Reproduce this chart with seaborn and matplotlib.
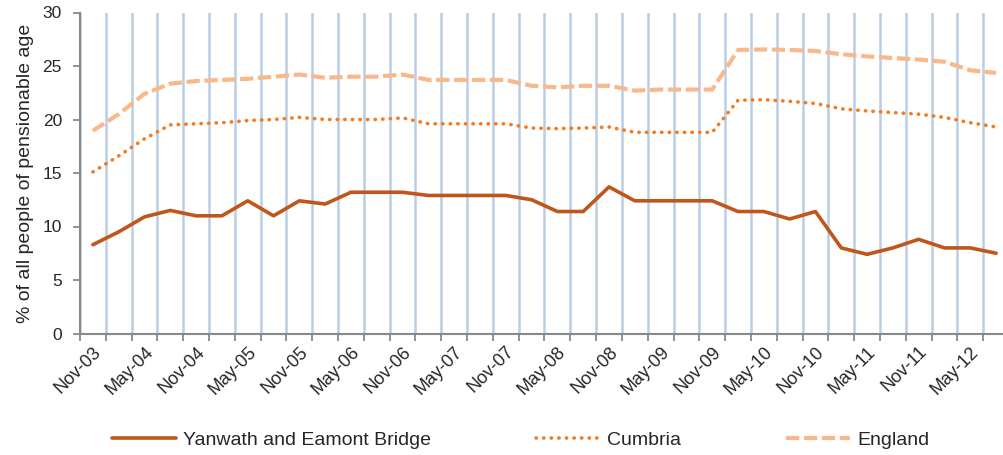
import numpy as np
import pandas as pd
import seaborn as sns
from matplotlib import pyplot as plt

# quarterly values, Nov-03 .. Aug-12
yanwath = [8.3, 9.5, 10.9, 11.5, 11.0, 11.0, 12.4, 11.0, 12.4, 12.1,
           13.2, 13.2, 13.2, 12.9, 12.9, 12.9, 12.9, 12.5, 11.4, 11.4,
           13.7, 12.4, 12.4, 12.4, 12.4, 11.4, 11.4, 10.7, 11.4, 8.0,
           7.4, 8.0, 8.8, 8.0, 8.0, 7.5]
cumbria = [15.1, 16.6, 18.2, 19.5, 19.6, 19.7, 19.9, 20.0, 20.2, 20.0,
           20.0, 20.0, 20.15, 19.6, 19.6, 19.6, 19.6, 19.2, 19.15, 19.2,
           19.3, 18.8, 18.8, 18.8, 18.8, 21.8, 21.85, 21.7, 21.5, 21.0,
           20.8, 20.65, 20.5, 20.2, 19.7, 19.3]
england = [18.95, 20.5, 22.4, 23.35, 23.6, 23.7, 23.8, 24.0, 24.2, 23.9,
           24.0, 24.0, 24.2, 23.7, 23.7, 23.7, 23.7, 23.15, 23.0, 23.15,
           23.15, 22.7, 22.8, 22.8, 22.8, 26.5, 26.55, 26.5, 26.4, 26.1,
           25.9, 25.75, 25.6, 25.4, 24.6, 24.35]
tick_labels = ['Nov-03', 'May-04', 'Nov-04', 'May-05', 'Nov-05', 'May-06',
               'Nov-06', 'May-07', 'Nov-07', 'May-08', 'Nov-08', 'May-09',
               'Nov-09', 'May-10', 'Nov-10', 'May-11', 'Nov-11', 'May-12']

sns.set_style('white')
plt.rcParams['font.family'] = ['Liberation Sans', 'DejaVu Sans']

my_dpi = 100
fig = plt.figure(figsize=(1004 / my_dpi, 455 / my_dpi), dpi=my_dpi)
ax = fig.add_axes([80 / 1004, 1 - 333.5 / 455, 929 / 1004, 321 / 455])

df = pd.DataFrame({'q': np.arange(len(yanwath)), 'Yanwath and Eamont Bridge': yanwath,
                   'Cumbria': cumbria, 'England': england})

sns.lineplot(data=df, x='q', y='Yanwath and Eamont Bridge', ax=ax, color='#C0561B',
             lw=2.6, label='Yanwath and Eamont Bridge')
sns.lineplot(data=df, x='q', y='Cumbria', ax=ax, color='#F47B20', lw=2.6,
             linestyle=(0, (0.1, 2.0)), dash_capstyle='round', label='Cumbria')
sns.lineplot(data=df, x='q', y='England', ax=ax, color='#F9B88A', lw=3.0,
             linestyle=(0, (3.2, 1.1)), label='England')

n = len(yanwath)
ax.set_xlim(-0.5, n - 0.5)
ax.set_ylim(0, 30)
ax.set_yticks(range(0, 31, 5))
ax.set_xticks(np.arange(-0.5, n, 1.0))
ax.set_xticklabels([])
ax.set_xticks(np.arange(0, n, 2), minor=True)
ax.set_xticklabels(tick_labels, minor=True, rotation=45, ha='right',
                   rotation_mode='anchor', fontsize=13)
ax.tick_params(axis='x', which='minor', length=0, pad=7)
ax.tick_params(axis='x', which='major', length=5, width=1.3, color='#898989',
               direction='out', bottom=True)
ax.tick_params(axis='y', length=5, width=1.3, color='#898989', direction='out',
               left=True, labelsize=12.5, pad=8)
ax.xaxis.grid(True, which='major', color='#B9CDE5', lw=1.8)
ax.yaxis.grid(False)
ax.set_axisbelow(True)
for s in ['top', 'right']:
    ax.spines[s].set_visible(False)
for s in ['left', 'bottom']:
    ax.spines[s].set_color('#898989')
    ax.spines[s].set_linewidth(1.5)

ax.set_xlabel('')
ax.set_ylabel('% of all people of pensionable age', fontsize=14, labelpad=6)

handles, labels = ax.get_legend_handles_labels()
ax.get_legend().remove()
fig.legend(handles, labels, loc='center', bbox_to_anchor=(521 / 1004, 1 - 440 / 455),
           ncol=3, frameon=False, fontsize=14, handlelength=3.25,
           handletextpad=0.4, columnspacing=5.4)

plt.savefig('out.png', dpi=my_dpi)
